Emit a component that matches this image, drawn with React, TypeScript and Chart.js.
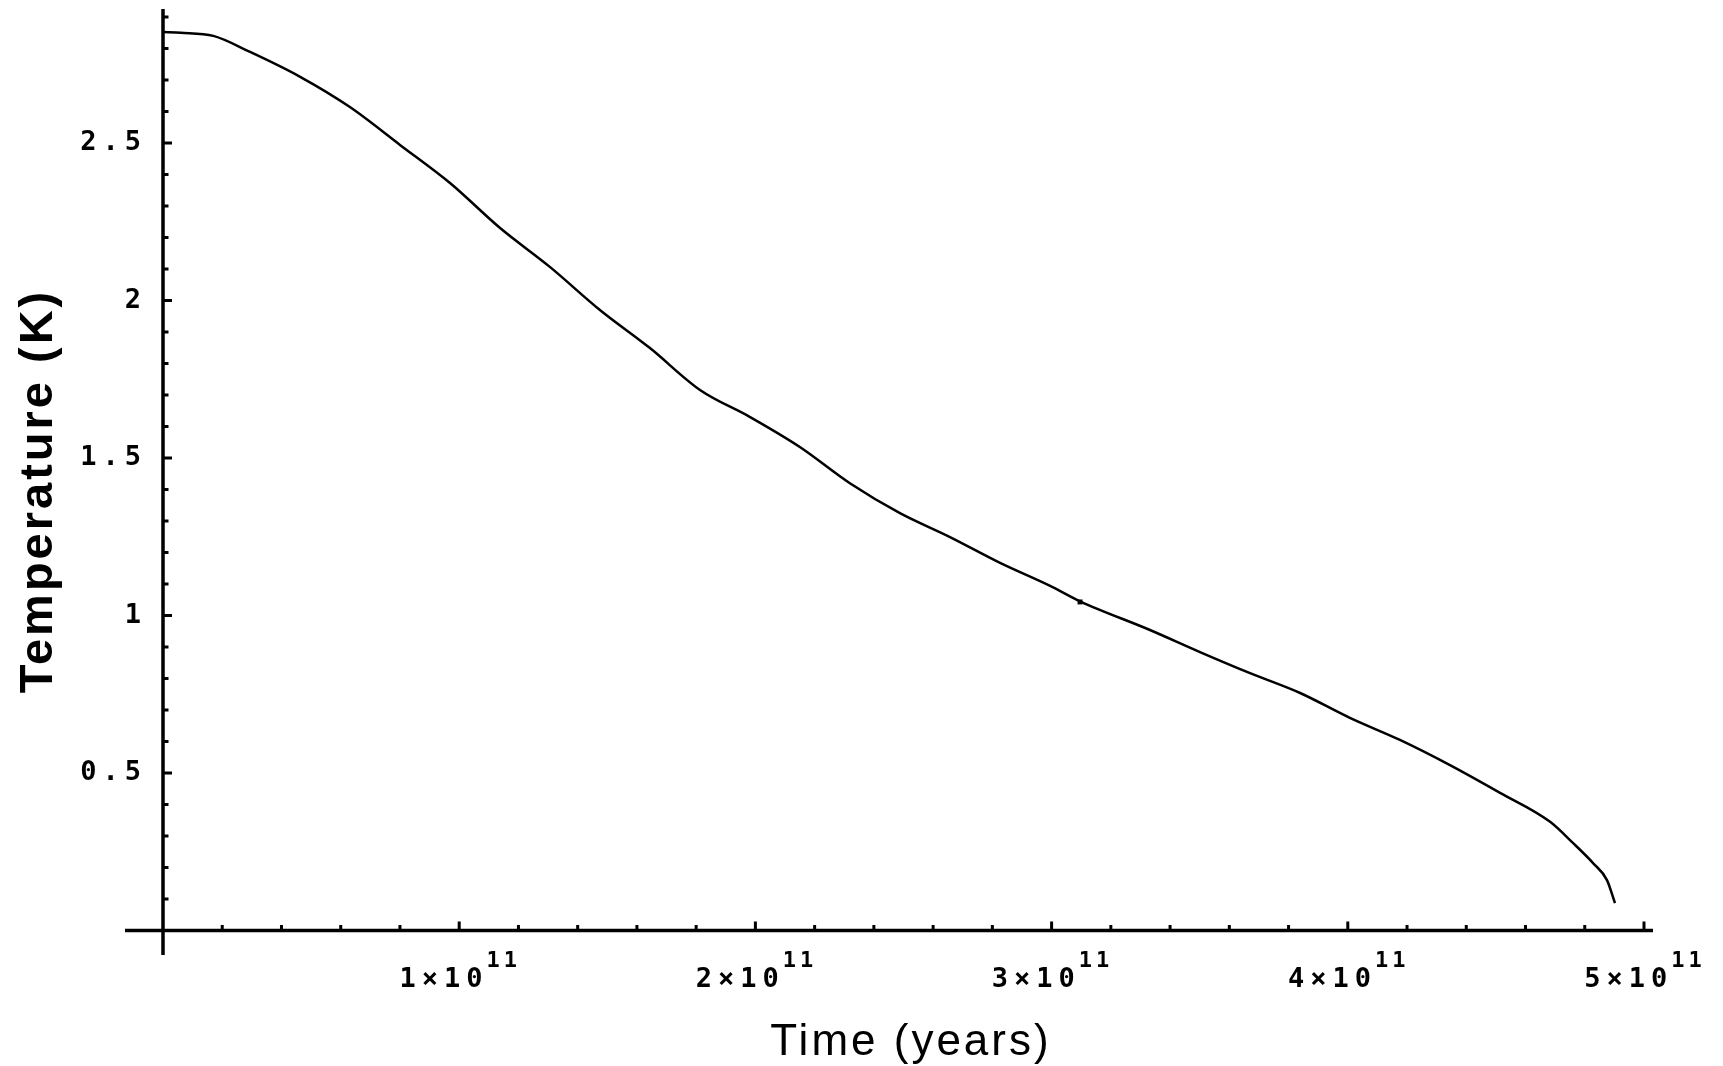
import React, { useEffect, useRef } from "react";
import { Chart, registerables } from "chart.js";

Chart.register(...registerables);

// Time since now (years) and CMB temperature (K)
const timeYears = [
  0, 0.06e11, 0.17e11, 0.294e11, 0.463e11, 0.631e11, 0.8e11, 0.969e11, 1.138e11,
  1.307e11, 1.475e11, 1.644e11, 1.813e11, 1.982e11, 2.15e11, 2.319e11, 2.488e11,
  2.657e11, 2.826e11, 2.995e11, 3.096e11, 3.332e11, 3.501e11, 3.67e11, 3.839e11,
  4.007e11, 4.176e11, 4.345e11, 4.514e11, 4.683e11, 4.76e11, 4.828e11, 4.875e11,
  4.902e11,
];
const temperatureK = [
  2.852, 2.85, 2.84, 2.789, 2.71, 2.614, 2.494, 2.373, 2.23,
  2.106, 1.97, 1.849, 1.716, 1.63, 1.535, 1.42, 1.325,
  1.249, 1.167, 1.094, 1.045, 0.954, 0.884, 0.817, 0.754,
  0.675, 0.605, 0.525, 0.437, 0.345, 0.278, 0.214, 0.16,
  0.087,
];
// small highlighted sample on the curve
const markTime = [3.096e11];
const markTemp = [1.043];

const yTickValues = [0.5, 1, 1.5, 2, 2.5];
const yTickLabels = ["0.5", "1", "1.5", "2", "2.5"];
const xTickValues = [1e11, 2e11, 3e11, 4e11, 5e11];
const xTickLabels = ["1×10", "2×10", "3×10", "4×10", "5×10"];
const xTickExponent = "11";
const yMinorStep = 0.1;
const xMinorStep = 0.2e11;

const xTitle = "Time (years)";
const yTitle = "Temperature (K)";

const X_MIN = -0.1283e11;
const X_MAX = 5.0304e11;
const Y_MIN = -0.0778;
const Y_MAX = 2.9254;

const TICK_FONT = "bold 27px 'DejaVu Sans Mono'";
const SUP_FONT = "bold 22px 'DejaVu Sans Mono'";

const axesPlugin = {
  id: "mathematicaAxes",
  afterDraw(chart: any) {
    const ctx: CanvasRenderingContext2D = chart.ctx;
    const xs = chart.scales.x;
    const ys = chart.scales.y;
    const area = chart.chartArea;
    const x0 = xs.getPixelForValue(0);
    const y0 = ys.getPixelForValue(0);
    ctx.save();
    ctx.strokeStyle = "#000";
    ctx.fillStyle = "#000";
    ctx.lineCap = "butt";

    // axis lines
    ctx.lineWidth = 3.5;
    ctx.beginPath();
    ctx.moveTo(x0, area.top);
    ctx.lineTo(x0, area.bottom);
    ctx.moveTo(area.left, y0);
    ctx.lineTo(area.right, y0);
    ctx.stroke();

    // y ticks
    ctx.lineWidth = 3;
    ctx.beginPath();
    for (let i = 1; i * yMinorStep <= Y_MAX; i++) {
      const v = i * yMinorStep;
      const p = ys.getPixelForValue(v);
      const major = i % 5 === 0;
      ctx.moveTo(x0, p);
      ctx.lineTo(x0 + (major ? 9 : 5.5), p);
    }
    // x ticks
    for (let i = 1; i * xMinorStep <= X_MAX; i++) {
      const v = i * xMinorStep;
      const p = xs.getPixelForValue(v);
      const major = i % 5 === 0;
      ctx.moveTo(p, y0);
      ctx.lineTo(p, y0 - (major ? 9 : 5.5));
    }
    ctx.stroke();

    // y tick labels
    ctx.font = TICK_FONT;
    (ctx as any).letterSpacing = "6px";
    ctx.textBaseline = "middle";
    ctx.textAlign = "left";
    yTickValues.forEach((v, i) => {
      const s = yTickLabels[i];
      const w = ctx.measureText(s).width;
      ctx.fillText(s, 147 - w, ys.getPixelForValue(v));
    });

    // x tick labels with superscript exponent
    ctx.textBaseline = "alphabetic";
    xTickValues.forEach((v, i) => {
      const p = xs.getPixelForValue(v);
      ctx.font = TICK_FONT;
      (ctx as any).letterSpacing = "6px";
      const main = xTickLabels[i];
      const mw = ctx.measureText(main).width;
      ctx.font = SUP_FONT;
      (ctx as any).letterSpacing = "4px";
      const sw = ctx.measureText(xTickExponent).width;
      const left = p - (mw + sw) / 2 + 2;
      ctx.font = TICK_FONT;
      (ctx as any).letterSpacing = "6px";
      ctx.fillText(main, left, 987);
      ctx.font = SUP_FONT;
      (ctx as any).letterSpacing = "4px";
      ctx.fillText(xTickExponent, left + mw - 2, 967);
    });

    // x title
    ctx.font = "44px 'Liberation Sans'";
    (ctx as any).letterSpacing = "3px";
    ctx.textAlign = "center";
    ctx.textBaseline = "alphabetic";
    ctx.fillText(xTitle, 911, 1055);

    // y title
    ctx.save();
    ctx.translate(52, 491);
    ctx.rotate(-Math.PI / 2);
    ctx.font = "bold 47px 'Liberation Sans'";
    (ctx as any).letterSpacing = "3px";
    ctx.textAlign = "center";
    ctx.fillText(yTitle, 0, 0);
    ctx.restore();

    (ctx as any).letterSpacing = "0px";
    ctx.restore();
  },
};

export default function App() {
  const canvasRef = useRef<HTMLCanvasElement | null>(null);

  useEffect(() => {
    if (!canvasRef.current) return;
    const chart = new Chart(canvasRef.current, {
      type: "line",
      data: {
        datasets: [
          {
            data: timeYears.map((t, i) => ({ x: t, y: temperatureK[i] })),
            borderColor: "#000",
            borderWidth: 2.5,
            pointRadius: 0,
            fill: false,
            cubicInterpolationMode: "monotone",
          },
          {
            data: markTime.map((t, i) => ({ x: t, y: markTemp[i] })),
            showLine: false,
            pointStyle: "rect",
            pointRadius: 3.5,
            backgroundColor: "#000",
            borderColor: "#000",
            borderWidth: 0,
          },
        ],
      },
      options: {
        animation: false,
        responsive: false,
        maintainAspectRatio: false,
        devicePixelRatio: 1,
        layout: { padding: { left: 125, right: 70, top: 9, bottom: 111 } },
        plugins: { legend: { display: false }, tooltip: { enabled: false } },
        scales: {
          x: { type: "linear", display: false, min: X_MIN, max: X_MAX },
          y: { type: "linear", display: false, min: Y_MIN, max: Y_MAX },
        },
      },
      plugins: [axesPlugin],
    } as any);
    return () => chart.destroy();
  }, []);

  return (
    <div style={{ position: "fixed", left: 0, top: 0, width: 1723, height: 1066, background: "#fff" }}>
      <canvas ref={canvasRef} width={1723} height={1066} style={{ display: "block" }} />
    </div>
  );
}
